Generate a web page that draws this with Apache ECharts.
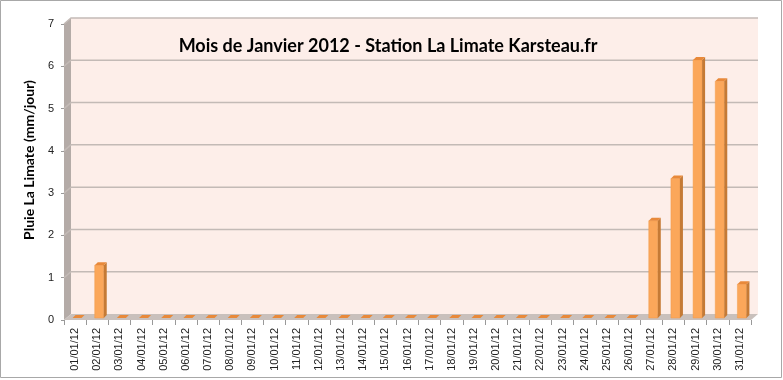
<!DOCTYPE html>
<html><head><meta charset="utf-8">
<script src="https://cdn.jsdelivr.net/npm/echarts@6/dist/echarts.min.js"></script>
<style>html,body{margin:0;padding:0;background:#fff}#c{width:783px;height:380px}</style>
</head><body><div id="c"></div>
<script>
const categories = ['01/01/12','02/01/12','03/01/12','04/01/12','05/01/12','06/01/12','07/01/12','08/01/12','09/01/12','10/01/12','11/01/12','12/01/12','13/01/12','14/01/12','15/01/12','16/01/12','17/01/12','18/01/12','19/01/12','20/01/12','21/01/12','22/01/12','23/01/12','24/01/12','25/01/12','26/01/12','27/01/12','28/01/12','29/01/12','30/01/12','31/01/12'];
const rain = [0,1.25,0,0,0,0,0,0,0,0,0,0,0,0,0,0,0,0,0,0,0,0,0,0,0,0,2.3,3.3,6.1,5.6,0.8];
const yTicks = [0,1,2,3,4,5,6,7];
const titleText = 'Mois de Janvier 2012 - Station La Limate Karsteau.fr';
const yName = 'Pluie La Limate (mm/jour)';

const DX = 7, DY = -6;   // depth of the 3D box
const BX = 2, BY = -2;   // bar front plane offset
const BW = 9, BD = 3;    // bar width, bar depth

const chart = echarts.init(document.getElementById('c'));

function wallsRender(params, api) {
  const cs = params.coordSys;
  const x0 = cs.x, x1 = cs.x + cs.width, yT = cs.y, yB = cs.y + cs.height;
  const children = [];
  children.push({type:'rect', shape:{x:x0+DX, y:yT+DY, width:cs.width, height:cs.height}, style:{fill:'#fdeee9'}});
  children.push({type:'polygon', shape:{points:[[x0,yT],[x0+DX,yT+DY],[x0+DX,yB+DY],[x0,yB]]}, style:{fill:'#b4aba7'}});
  children.push({type:'polygon', shape:{points:[[x0,yB],[x0+DX,yB+DY],[x1+DX,yB+DY],[x1,yB]]}, style:{fill:'#c9c0bc'}});
  yTicks.forEach(function(v){
    if (v === 0) return;
    const y = api.coord([0, v])[1];
    children.push({type:'polyline', shape:{points:[[x0,y],[x0+DX,y+DY],[x1+DX,y+DY]]}, style:{stroke:'#c3bab6', lineWidth:1.5, fill:null}});
  });
  return {type:'group', children: children};
}

function barRender(params, api) {
  const v = api.value(1);
  const top = api.coord([api.value(0), v]);
  const bot = api.coord([api.value(0), 0]);
  const cx = top[0] + BX;
  const yt = top[1] + BY, yb = bot[1] + BY;
  const l = cx - BW/2, r = cx + BW/2;
  const children = [];
  if (yb - yt > 0.5) {
    children.push({type:'rect', shape:{x:l, y:yt, width:BW, height:yb-yt}, style:{fill:'#fba75a', stroke:'#f39a48', lineWidth:0.5}});
    children.push({type:'polygon', shape:{points:[[r,yt],[r+BD,yt-BD],[r+BD,yb-BD],[r,yb]]}, style:{fill:'#c57a35'}});
  }
  children.push({type:'polygon', shape:{points:[[l,yt],[l+BD,yt-BD],[r+BD,yt-BD],[r,yt]]}, style:{fill:'#e8893a'}});
  return {type:'group', children: children};
}

chart.setOption({
  animation: false,
  backgroundColor: '#fff',
  title: {
    text: titleText, left: 383, top: 32, textAlign: 'center',
    textStyle: {fontFamily: 'Lato', fontWeight: 'bold', fontSize: 18, color: '#000'}
  },
  grid: {left: 64, right: 32, top: 24, bottom: 60},
  xAxis: {
    type: 'category', data: categories,
    axisLine: {show: false},
    axisTick: {show: true, length: 5, lineStyle: {color: '#999'}},
    axisLabel: {rotate: 90, fontSize: 11, color: '#222', margin: 8, fontFamily: 'Liberation Sans', interval: 0},
    splitLine: {show: false}
  },
  yAxis: {
    type: 'value', min: 0, max: 7, interval: 1,
    axisLine: {show: false},
    axisTick: {show: true, length: 3, lineStyle: {color: '#999'}},
    axisLabel: {fontSize: 11, color: '#222', margin: 10, fontFamily: 'Liberation Sans'},
    splitLine: {show: false}
  },
  graphic: [
    {type:'rect', shape:{x:0.5, y:0.5, width:781, height:377}, style:{fill:null, stroke:'#a8a8a8', lineWidth:1}, silent:true, z:-1},
    {type:'text', x:29, y:160, rotation:Math.PI/2, style:{text:yName, fontFamily:'Lato', fontWeight:'bold', fontSize:14, fill:'#000', align:'center', verticalAlign:'middle'}}
  ],
  series: [
    {type: 'custom', renderItem: wallsRender, data: [[0,0]], z: 1, silent: true},
    {type: 'custom', renderItem: barRender, data: rain.map(function(v,i){return [i,v];}), encode:{x:0,y:1}, z: 2}
  ]
});
</script></body></html>
